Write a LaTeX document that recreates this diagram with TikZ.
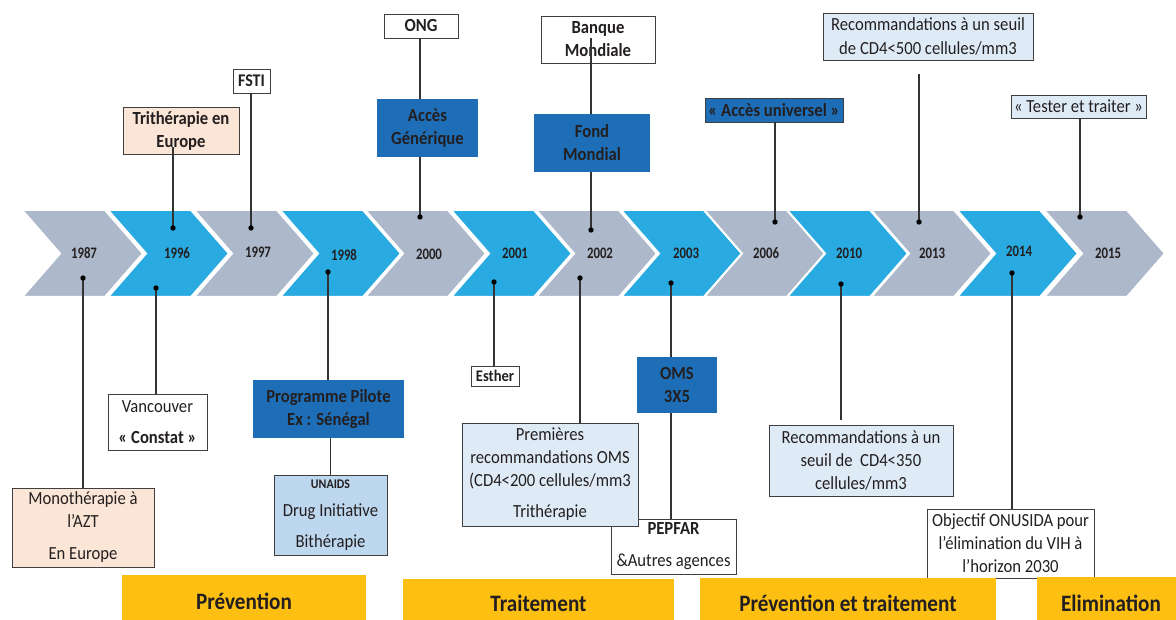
\documentclass[tikz,border=0pt]{standalone}
\usepackage{fontspec}
\setmainfont{Carlito}[FakeStretch=0.9]
\newfontfamily\yearfont{Carlito}[FakeStretch=0.8]
\definecolor{cgray}{HTML}{ADB9CA}
\definecolor{cblue}{HTML}{29ABE2}
\definecolor{dblue}{HTML}{1E6EB7}
\definecolor{lblue}{HTML}{DEEBF7}
\definecolor{mblue}{HTML}{BDD7EE}
\definecolor{peach}{HTML}{FBE5D6}
\definecolor{gold}{HTML}{FCBF12}
\definecolor{txt}{HTML}{231F20}
\definecolor{bordc}{HTML}{3F3F3F}
\definecolor{linec}{HTML}{333333}
\begin{document}
\begin{tikzpicture}[x=1pt,y=-1pt,
  bx/.style={draw=bordc, line width=0.9pt, inner sep=0pt, align=center, text=txt, font=\fontsize{18.5}{23}\selectfont},
  bbx/.style={bx, font=\fontsize{18.5}{23}\selectfont\bfseries},
  dk/.style={bbx, draw=none, fill=dblue},
  yr/.style={font=\yearfont\fontsize{16}{18}\selectfont\bfseries, text=txt, inner sep=0pt},
  bar/.style={fill=gold, inner sep=0pt, align=center, font=\fontsize{23.5}{28}\selectfont\bfseries, text=txt},
  conn/.style={draw=linec, line width=1.1pt},
  chev/.style={draw=white, line width=2pt}
]
\useasboundingbox (0,0) rectangle (1176,620);
\fill[white] (0,0) rectangle (1176,620);

% chevrons
\foreach \x/\c in {22/cgray,108/cblue,194/cgray,280/cblue,365/cgray,451/cblue,536/cgray,621/cblue,704/cgray,787/cblue,871/cgray,957/cblue,1044/cgray}{
  \filldraw[chev, fill=\c] (\x,210) -- (\x+83,210) -- (\x+121,253.5) -- (\x+83,297) -- (\x,297) -- (\x+38,253.5) -- cycle;
}
% year labels
\node[yr] (y1987) at (84,253) {1987};
\node[yr] (y1996) at (177,253) {1996};
\node[yr] (y1997) at (258,252) {1997};
\node[yr] (y1998) at (344,255) {1998};
\node[yr] (y2000) at (429,254) {2000};
\node[yr] (y2001) at (515,253) {2001};
\node[yr] (y2002) at (600,253) {2002};
\node[yr] (y2003) at (686,253) {2003};
\node[yr] (y2006) at (766,253) {2006};
\node[yr] (y2010) at (849,253) {2010};
\node[yr] (y2013) at (932,253) {2013};
\node[yr] (y2014) at (1019,251) {2014};
\node[yr] (y2015) at (1108,253) {2015};

% dot coordinates
\coordinate (d1987) at (83,278);
\coordinate (d1996a) at (173,228);
\coordinate (d1996b) at (156,288);
\coordinate (d1997) at (251,228);
\coordinate (d1998) at (328,272);
\coordinate (d2000) at (420,217);
\coordinate (d2001) at (494,282);
\coordinate (d2002a) at (591,230);
\coordinate (d2002b) at (580,278);
\coordinate (d2003) at (671,283);
\coordinate (d2006) at (775,222);
\coordinate (d2010) at (841,284);
\coordinate (d2013) at (919,222);
\coordinate (d2014) at (1012,273);
\coordinate (d2015) at (1080,217);
\coordinate (triin) at (173,147);
\coordinate (bmin) at (591,38);
\coordinate (c500) at (919,74);
\coordinate (c350) at (841,420);

% top boxes
\node[bbx, fill=white, minimum width=37pt, minimum height=24pt, font=\fontsize{17.8}{22}\selectfont\bfseries] (fsti) at (251.5,81) {FSTI};
\node[bbx, fill=peach, minimum width=116pt, minimum height=47pt] (tri) at (181,130.5) {Trithérapie en\\Europe};
\node[bbx, fill=white, minimum width=74pt, minimum height=24pt] (ong) at (421,26) {ONG};
\node[dk, minimum width=101pt, minimum height=58pt] (acces) at (427.5,128) {Accès\\Générique};
\node[bbx, fill=white, minimum width=114pt, minimum height=47pt] (banque) at (598,39.5) {Banque\\Mondiale};
\node[dk, minimum width=116pt, minimum height=58pt] (fond) at (592,143) {Fond\\Mondial};
\node[bbx, fill=dblue, minimum width=138pt, minimum height=24pt] (univ) at (774,110) {« Accès universel »};
\node[bx, fill=lblue, minimum width=210pt, minimum height=47pt, font=\fontsize{18.5}{24}\selectfont] (cd500) at (928,36.5) {Recommandations à un seuil\\de CD4<500 cellules/mm3};
\node[bx, fill=lblue, minimum width=135pt, minimum height=23pt] (tester) at (1078.5,106.5) {« Tester et traiter »};

% bottom boxes
\node[bx, fill=peach, minimum width=142pt, minimum height=79pt, font=\fontsize{18.5}{22.5}\selectfont] (mono) at (83,527.5) {Monothérapie à\\l’AZT\\[10pt]En Europe};
\node[bx, fill=white, minimum width=99pt, minimum height=56pt] (vanc) at (157.5,422) {Vancouver\\[8pt]\textbf{« Constat »}};
\node[dk, minimum width=151pt, minimum height=58pt] (prog) at (328.5,409) {Programme Pilote\\Ex : Sénégal};
\node[bx, fill=mblue, minimum width=113pt, minimum height=80pt] (unaids) at (330.5,515) {{\fontsize{13.2}{15}\selectfont\bfseries UNAIDS}\\[5pt]Drug Initiative\\[8pt]Bithérapie};
\node[bbx, fill=white, minimum width=48pt, minimum height=20pt, font=\fontsize{16.2}{20}\selectfont\bfseries] (esther) at (495,376) {Esther};
\node[dk, minimum width=80pt, minimum height=56pt] (oms) at (677,385) {OMS\\3X5};
\node[bx, fill=white, minimum width=125pt, minimum height=55pt] (pepfar) at (673.5,546.5) {\textbf{PEPFAR}\\[9pt]\&Autres agences};
\node[bx, fill=lblue, minimum width=176pt, minimum height=103pt] (prem) at (550,474.5) {Premières\\recommandations OMS\\(CD4<200 cellules/mm3\\[8pt]Trithérapie};
\node[bx, fill=lblue, minimum width=184pt, minimum height=71pt] (cd350) at (861,460.5) {Recommandations à un\\seuil de\ \ CD4<350\\cellules/mm3};
\node[bx, fill=white, minimum width=167pt, minimum height=69pt] (obj) at (1010.5,543.5) {Objectif ONUSIDA pour\\l’élimination du VIH à\\l’horizon 2030};

% connectors
\draw[conn] (triin) -- (d1996a);
\draw[conn] (fsti.south -| d1997) -- (d1997);
\draw[conn] (d2000 |- ong.south) -- (d2000 |- acces.north);
\draw[conn] (d2000 |- acces.south) -- (d2000);
\draw[conn] (bmin) -- (bmin |- fond.north);
\draw[conn] (d2002a |- fond.south) -- (d2002a);
\draw[conn] (d2006 |- univ.south) -- (d2006);
\draw[conn] (c500) -- (d2013);
\draw[conn] (d2015 |- tester.south) -- (d2015);
\draw[conn] (d1987) -- (d1987 |- mono.north);
\draw[conn] (d1996b) -- (d1996b |- vanc.north);
\draw[conn] (d1998) -- (d1998 |- prog.north);
\draw[conn] (unaids.north |- prog.south) -- (unaids.north);
\draw[conn] (d2001) -- (d2001 |- esther.north);
\draw[conn] (d2002b) -- (d2002b |- prem.north);
\draw[conn] (d2003) -- (d2003 |- oms.north);
\draw[conn] (d2003 |- oms.south) -- (d2003 |- pepfar.north);
\draw[conn] (d2010) -- (c350);
\draw[conn] (d2014) -- (d2014 |- obj.north);

% dots
\foreach \p in {d1987,d1996a,d1996b,d1997,d1998,d2000,d2001,d2002a,d2002b,d2003,d2006,d2010,d2013,d2014,d2015}{
  \fill[black] (\p) circle (2.7pt);
}

% phase bars
\node[bar, minimum width=244pt, minimum height=52pt] (bprev) at (244,601) {Prévention};
\node[bar, minimum width=271pt, minimum height=48pt] (btrait) at (538.5,603) {Traitement};
\node[bar, minimum width=296pt, minimum height=50pt] (bpt) at (848,603) {Prévention et traitement};
\node[bar, minimum width=148pt, minimum height=52pt] (belim) at (1111,603) {Elimination};
\end{tikzpicture}
\end{document}
